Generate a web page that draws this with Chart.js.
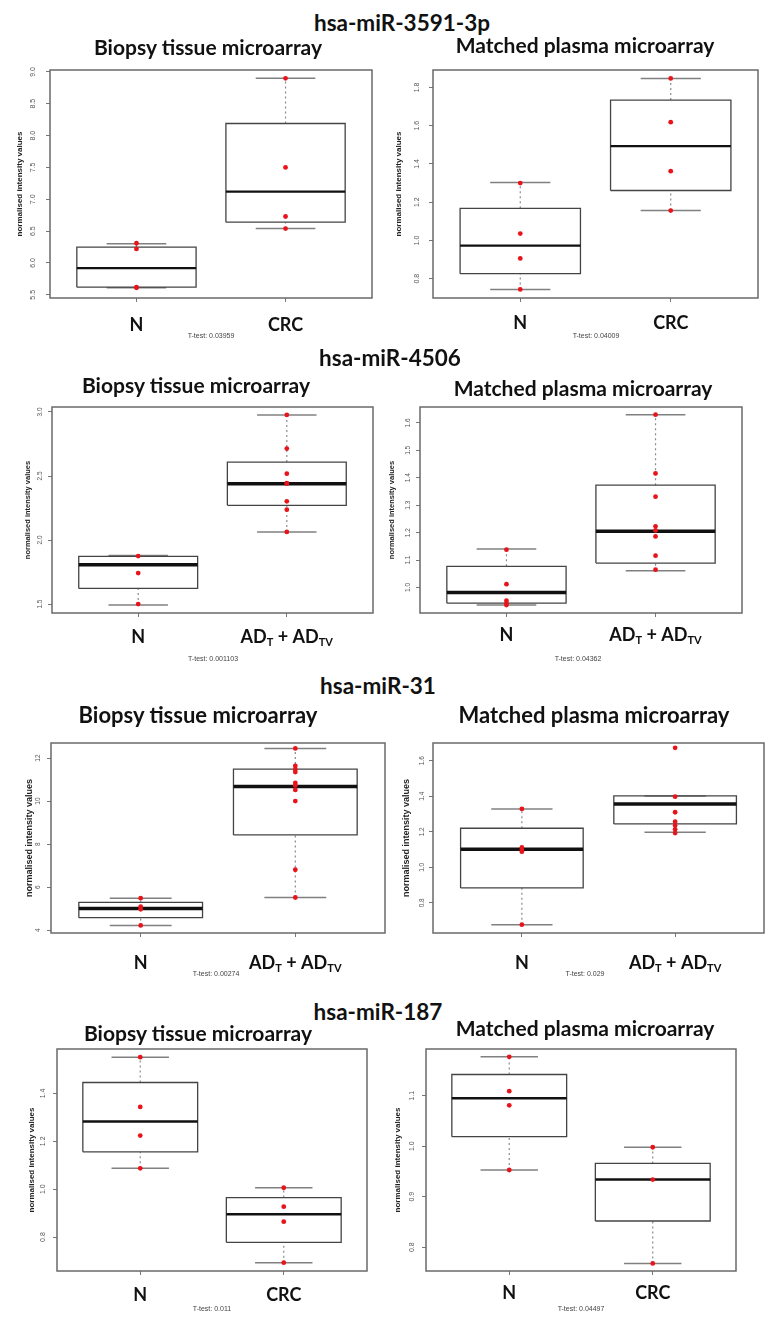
<!DOCTYPE html>
<html>
<head>
<meta charset="utf-8">
<script src="https://cdn.jsdelivr.net/npm/chart.js@4.4.0/dist/chart.umd.min.js"></script>
<style>
	body { margin: 0; background: #fff; width: 765px; height: 1319px; overflow: hidden; position: relative; font-family: Lato, "Noto Sans", sans-serif; }
	canvas { position: absolute; }
	.t { position: absolute; transform: translate(-50%, -50%); white-space: nowrap; color: #111; font-weight: bold; z-index: 5; }
	.gene { font-size: 22.5px; }
	.sub { font-size: 21px; }
	.sub.big { font-size: 22px; }
	.tt { font-family: "Liberation Sans", Arial, sans-serif; font-size: 7px; font-weight: normal; color: #444; }
</style>
</head>
<body>
<script>
// groups on the x axis
const crcGroups = ['N', 'CRC'];
const adGroups = ['N', 'AD_{T} + AD_{TV}'];

// box stats per group: [lower whisker, Q1, median, Q3, upper whisker]
const tissue3591Stats = [[5.61, 5.62, 5.92, 6.25, 6.30], [6.54, 6.64, 7.12, 8.19, 8.90]];
const tissue3591Points = [[6.31, 6.22, 5.62, 5.61], [8.90, 7.50, 6.73, 6.54]];
const tissue3591Ticks = ['5.5', '6.0', '6.5', '7.0', '7.5', '8.0', '8.5', '9.0'];
const tissue3591Range = [5.45, 9.03];

const plasma3591Stats = [[0.744, 0.826, 0.973, 1.168, 1.303], [1.156, 1.261, 1.493, 1.734, 1.847]];
const plasma3591Points = [[1.30, 1.036, 0.906, 0.744], [1.847, 1.618, 1.362, 1.156]];
const plasma3591Ticks = ['0.8', '1.0', '1.2', '1.4', '1.6', '1.8'];
const plasma3591Range = [0.699, 1.891];

const tissue4506Stats = [[1.492, 1.622, 1.807, 1.872, 1.88], [2.063, 2.271, 2.44, 2.609, 2.977]];
const tissue4506Points = [[1.875, 1.742, 1.50], [2.977, 2.714, 2.518, 2.445, 2.44, 2.302, 2.237, 2.063]];
const tissue4506Ticks = ['1.5', '2.0', '2.5', '3.0'];
const tissue4506Range = [1.43, 3.039];

const plasma4506Stats = [[0.936, 0.943, 0.982, 1.077, 1.14], [1.061, 1.089, 1.205, 1.373, 1.630]];
const plasma4506Points = [[1.138, 1.012, 0.952, 0.942, 0.936], [1.63, 1.416, 1.331, 1.223, 1.208, 1.186, 1.116, 1.065]];
const plasma4506Ticks = ['1.0', '1.1', '1.2', '1.3', '1.4', '1.5', '1.6'];
const plasma4506Range = [0.907, 1.658];

const tissue31Stats = [[4.22, 4.58, 5.01, 5.29, 5.49], [5.52, 8.43, 10.68, 11.49, 12.45]];
const tissue31Points = [[5.49, 5.09, 4.97, 4.22], [12.45, 11.63, 11.47, 11.35, 10.84, 10.73, 10.52, 10.0, 6.81, 5.52]];
const tissue31Ticks = ['4', '6', '8', '10', '12'];
const tissue31Range = [3.87, 12.7];

const plasma31Stats = [[0.677, 0.884, 1.101, 1.22, 1.329], [1.197, 1.244, 1.357, 1.402, 1.402]];
const plasma31Points = [[1.329, 1.112, 1.097, 1.088, 0.677], [1.673, 1.398, 1.31, 1.257, 1.235, 1.214, 1.193]];
const plasma31Ticks = ['0.8', '1.0', '1.2', '1.4', '1.6'];
const plasma31Range = [0.63, 1.70];

const tissue187Stats = [[1.087, 1.156, 1.283, 1.446, 1.552], [0.693, 0.778, 0.895, 0.965, 1.006]];
const tissue187Points = [[1.552, 1.344, 1.224, 1.087], [1.006, 0.927, 0.864, 0.693]];
const tissue187Ticks = ['0.8', '1.0', '1.2', '1.4'];
const tissue187Range = [0.658, 1.586];

const plasma187Stats = [[0.953, 1.019, 1.095, 1.142, 1.177], [0.768, 0.852, 0.934, 0.966, 0.998]];
const plasma187Points = [[1.177, 1.109, 1.081, 0.953], [0.998, 0.934, 0.768]];
const plasma187Ticks = ['0.8', '0.9', '1.0', '1.1'];
const plasma187Range = [0.753, 1.1925];

const geneTitles = ['hsa-miR-3591-3p', 'hsa-miR-4506', 'hsa-miR-31', 'hsa-miR-187'];
const tTests = ['T-test: 0.03959', 'T-test: 0.04009', 'T-test: 0.001103', 'T-test: 0.04362',
	'T-test: 0.00274', 'T-test: 0.029', 'T-test: 0.011', 'T-test: 0.04497'];
const yTitle = 'normalised intensity values';

// layout constants (pixels)
const AXIS_W = 45, PAD_TOP = 18, PAD_R = 8, XAXIS_H = 50;
const BOX = 0.4, CAP = 0.2, TICK_LEN = 4;

// frame = [left, top, right, bottom] of the plot box
const panels = [
	{frame: [50, 70, 372, 298], groups: crcGroups, stats: tissue3591Stats, points: tissue3591Points, ticks: tissue3591Ticks, range: tissue3591Range, med: 2.2, titleOff: 30, titleSize: 8, tickOff: 17, labelOff: 27, tick: 7},
	{frame: [433, 70, 758, 298], groups: crcGroups, stats: plasma3591Stats, points: plasma3591Points, ticks: plasma3591Ticks, range: plasma3591Range, med: 2.2, titleOff: 34, titleSize: 8, tickOff: 16, labelOff: 25, tick: 7},
	{frame: [52, 407, 373, 613], groups: adGroups, stats: tissue4506Stats, points: tissue4506Points, ticks: tissue4506Ticks, range: tissue4506Range, med: 3.5, titleOff: 24, titleSize: 7.5, tickOff: 12, labelOff: 24, tick: 6.5},
	{frame: [420, 407, 742, 613], groups: adGroups, stats: plasma4506Stats, points: plasma4506Points, ticks: plasma4506Ticks, range: plasma4506Range, med: 3.5, titleOff: 28, titleSize: 7.5, tickOff: 12, labelOff: 22, tick: 6.5},
	{frame: [51, 743, 385, 933], groups: adGroups, stats: tissue31Stats, points: tissue31Points, ticks: tissue31Ticks, range: tissue31Range, med: 3.5, titleOff: 21, titleSize: 9, tickOff: 13, labelOff: 30, tick: 6.5},
	{frame: [433, 743, 764, 933], groups: adGroups, stats: plasma31Stats, points: plasma31Points, ticks: plasma31Ticks, range: plasma31Range, med: 3.5, titleOff: 26, titleSize: 9, tickOff: 11, labelOff: 30, tick: 6.5},
	{frame: [57, 1049, 367, 1271], groups: crcGroups, stats: tissue187Stats, points: tissue187Points, ticks: tissue187Ticks, range: tissue187Range, med: 2.5, titleOff: 25, titleSize: 8, tickOff: 14, labelOff: 24, tick: 7},
	{frame: [426, 1049, 736, 1271], groups: crcGroups, stats: plasma187Stats, points: plasma187Points, ticks: plasma187Ticks, range: plasma187Range, med: 2.5, titleOff: 28, titleSize: 8, tickOff: 14, labelOff: 22, tick: 7},
];

// html text: [text, class, centre x, centre y]
const texts = [
	[geneTitles[0], 'gene', 402, 22], [geneTitles[1], 'gene', 390, 357],
	[geneTitles[2], 'gene', 378, 685], [geneTitles[3], 'gene', 378, 1011],
	['Biopsy tissue microarray', 'sub', 208, 46], ['Matched plasma microarray', 'sub', 585, 44],
	['Biopsy tissue microarray', 'sub', 196, 384], ['Matched plasma microarray', 'sub', 583, 387],
	['Biopsy tissue microarray', 'sub big', 198, 714], ['Matched plasma microarray', 'sub big', 594, 714],
	['Biopsy tissue microarray', 'sub', 198, 1032], ['Matched plasma microarray', 'sub', 585, 1027],
	[tTests[0], 'tt', 211, 335], [tTests[1], 'tt', 596, 335],
	[tTests[2], 'tt', 213, 658], [tTests[3], 'tt', 578, 658],
	[tTests[4], 'tt', 216, 973], [tTests[5], 'tt', 585, 973],
	[tTests[6], 'tt', 212, 1308], [tTests[7], 'tt', 581, 1308],
];

const measureCtx = document.createElement('canvas').getContext('2d');

function seg(points, color, width, dash) {
	return {
		data: points.map(p => ({x: p[0], y: p[1]})),
		showLine: true,
		borderColor: color,
		borderWidth: width,
		borderDash: dash || [],
		borderCapStyle: 'butt',
		borderJoinStyle: 'miter',
		pointRadius: 0,
		fill: false,
		order: 2,
	};
}

// draws group names under the axis, "_{..}" parts as subscripts
const catLabels = {
	id: 'catLabels',
	afterDraw(chart, args, opts) {
		const ctx = chart.ctx;
		const xs = chart.scales.x;
		const y = chart.chartArea.bottom + opts.offset;
		ctx.save();
		ctx.fillStyle = '#111';
		ctx.textBaseline = 'middle';
		ctx.textAlign = 'left';
		opts.labels.forEach((lab, i) => {
			const parts = lab.split(/(_\{[^}]*\})/).filter(s => s.length);
			const pieces = parts.map(s => {
				const sub = s.startsWith('_{');
				const text = sub ? s.slice(2, -1) : s;
				ctx.font = sub ? 'bold 11px Lato' : 'bold 18px Lato';
				return {text, sub, w: ctx.measureText(text).width};
			});
			let x = xs.getPixelForValue(i + 1) - pieces.reduce((a, p) => a + p.w, 0) / 2;
			pieces.forEach(p => {
				ctx.font = p.sub ? 'bold 11px Lato' : 'bold 18px Lato';
				ctx.fillText(p.text, x, p.sub ? y + 5 : y);
				x += p.w;
			});
		});
		ctx.restore();
	}
};

const frameBox = {
	id: 'frameBox',
	beforeDatasetsDraw(chart) {
		const a = chart.chartArea, ctx = chart.ctx;
		ctx.save();
		ctx.strokeStyle = '#6a6a6a';
		ctx.lineWidth = 1.5;
		ctx.strokeRect(a.left, a.top, a.right - a.left, a.bottom - a.top);
		ctx.restore();
	}
};

function makeBoxChart(p) {
	const [L, T, R, B] = p.frame;
	const w = R - L + AXIS_W + PAD_R, h = B - T + PAD_TOP + XAXIS_H;
	const cv = document.createElement('canvas');
	cv.width = w; cv.height = h;
	cv.style.left = (L - AXIS_W) + 'px';
	cv.style.top = (T - PAD_TOP) + 'px';
	cv.style.width = w + 'px';
	cv.style.height = h + 'px';
	document.body.appendChild(cv);

	const tickFont = {family: '"Liberation Sans", Arial, sans-serif', size: p.tick};
	measureCtx.font = p.tick + 'px "Liberation Sans"';
	const widest = Math.max(...p.ticks.map(t => measureCtx.measureText(t).width));
	const titleLh = p.titleSize * 1.2;

	const datasets = [];
	p.points.forEach((vals, i) => {
		datasets.push({
			data: vals.map(v => ({x: i + 1, y: v})),
			pointRadius: 2.4,
			pointBackgroundColor: '#e8141c',
			pointBorderWidth: 0,
			showLine: false,
			order: 0,
		});
	});
	p.stats.forEach((s, i) => {
		const x = i + 1;
		const [lo, q1, med, q3, hi] = s;
		datasets.push(Object.assign(seg([[x - BOX, med], [x + BOX, med]], '#111', p.med), {order: 1}));
		datasets.push(seg([[x - BOX, q1], [x + BOX, q1], [x + BOX, q3], [x - BOX, q3], [x - BOX, q1]], '#444', 1.3));
		datasets.push(seg([[x, lo], [x, q1]], '#8a8a8a', 1.2, [2, 3]));
		datasets.push(seg([[x, q3], [x, hi]], '#8a8a8a', 1.2, [2, 3]));
		datasets.push(seg([[x - CAP, lo], [x + CAP, lo]], '#808080', 1.5));
		datasets.push(seg([[x - CAP, hi], [x + CAP, hi]], '#808080', 1.5));
	});

	new Chart(cv, {
		type: 'scatter',
		data: {datasets},
		plugins: [frameBox, catLabels],
		options: {
			responsive: false,
			animation: false,
			layout: {padding: {top: PAD_TOP, right: PAD_R, left: 0, bottom: 0}},
			scales: {
				x: {
					type: 'linear',
					min: 0.42,
					max: 2.58,
					afterBuildTicks: s => { s.ticks = p.groups.map((g, i) => ({value: i + 1})); },
					afterFit: s => { s.height = XAXIS_H; },
					ticks: {display: false},
					grid: {drawOnChartArea: false, drawTicks: true, tickLength: TICK_LEN, color: '#777'},
					border: {display: false},
				},
				y: {
					min: p.range[0],
					max: p.range[1],
					afterBuildTicks: s => { s.ticks = p.ticks.map(t => ({value: parseFloat(t)})); },
					afterFit: s => { s.width = AXIS_W; },
					ticks: {
						callback: (v, idx) => p.ticks[idx],
						font: tickFont,
						color: '#555',
						minRotation: 90,
						maxRotation: 90,
						crossAlign: 'center',
						padding: p.tickOff - TICK_LEN - widest / 2,
					},
					grid: {drawOnChartArea: false, drawTicks: true, tickLength: TICK_LEN, color: '#777'},
					border: {display: false},
					title: {
						display: true,
						text: yTitle,
						color: '#222',
						font: {family: '"Liberation Sans", Arial, sans-serif', size: p.titleSize, weight: 'bold'},
						padding: {top: AXIS_W - p.titleOff - titleLh / 2, bottom: 0},
					},
				},
			},
			plugins: {
				legend: {display: false},
				tooltip: {enabled: false},
				catLabels: {labels: p.groups, offset: p.labelOff},
			},
		},
	});
}

panels.forEach(makeBoxChart);

texts.forEach(([txt, cls, x, y]) => {
	const d = document.createElement('div');
	d.className = 't ' + cls;
	d.textContent = txt;
	d.style.left = x + 'px';
	d.style.top = y + 'px';
	document.body.appendChild(d);
});
</script>
</body>
</html>
